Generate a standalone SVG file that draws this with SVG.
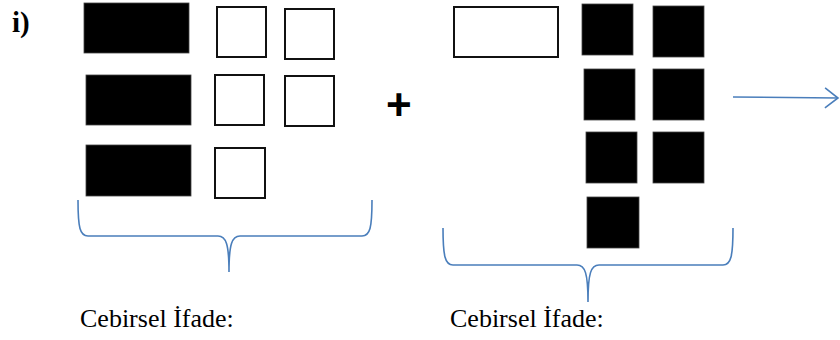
<svg xmlns="http://www.w3.org/2000/svg" width="840" height="340" viewBox="0 0 840 340">
  <style>
    .blk { fill: #000; stroke: #444; stroke-width: 0.8; }
    .wht { fill: #fff; stroke: #111; stroke-width: 2; }
    .brace { fill: none; stroke: #4A7EBB; stroke-width: 1.6; }
    .lbl { font-family: "Liberation Serif", "Times New Roman", serif; font-size: 26px; fill: #000; }
  </style>
  <defs>
    <marker id="arr" markerWidth="16" markerHeight="24" refX="14" refY="11" orient="auto" markerUnits="userSpaceOnUse">
      <polyline points="1,1 14,11 1,21" fill="none" stroke="#4A7EBB" stroke-width="1.6"/>
    </marker>
  </defs>
  <rect width="840" height="340" fill="#fff"/>

  <text x="12" y="32" font-family="'Liberation Serif', 'Times New Roman', serif" font-size="29" font-weight="bold">i)</text>

  <g id="left-group">
    <rect id="b1" class="blk" x="84" y="3" width="105" height="50"/>
    <rect id="w1" class="wht" x="217" y="7" width="49" height="50"/>
    <rect id="w2" class="wht" x="285" y="9" width="49" height="50"/>
    <rect id="b2" class="blk" x="86" y="75" width="105" height="50"/>
    <rect id="w3" class="wht" x="215" y="75" width="49" height="50"/>
    <rect id="w4" class="wht" x="285" y="76" width="49" height="50"/>
    <rect id="b3" class="blk" x="86" y="145" width="105" height="51"/>
    <rect id="w5" class="wht" x="215" y="148" width="50" height="50"/>
  </g>

  <text x="386" y="120" font-family="'Liberation Sans', Arial, sans-serif" font-size="44" font-weight="bold">+</text>

  <g id="right-group">
    <rect id="wr" class="wht" x="454" y="7" width="104" height="50"/>
    <rect id="k1" class="blk" x="582" y="4" width="51" height="51"/>
    <rect id="k2" class="blk" x="653" y="6" width="51" height="51"/>
    <rect id="k3" class="blk" x="584" y="69" width="51" height="51"/>
    <rect id="k4" class="blk" x="653" y="69" width="51" height="51"/>
    <rect id="k5" class="blk" x="586" y="132" width="51" height="51"/>
    <rect id="k6" class="blk" x="653" y="132" width="51" height="51"/>
    <rect id="k7" class="blk" x="587" y="197" width="52" height="51"/>
  </g>

  <g id="connectors">
    <path class="brace" d="M78,200 C78,228 80,236 88,236 L218,236 C226,236 229,244 229,272 C229,244 232,236 240,236 L362,236 C370,236 372,228 372,200"/>
    <path class="brace" d="M443,228 C443,256 445,265 453,265 L577,265 C585,265 588,273 588,302 C588,273 591,265 599,265 L723,265 C731,265 733,256 733,228"/>
    <line class="brace" x1="733" y1="97" x2="838" y2="98" marker-end="url(#arr)"/>
  </g>

  <g id="labels">
    <text class="lbl" x="80" y="327">Cebirsel İfade:</text>
    <text class="lbl" x="450" y="327">Cebirsel İfade:</text>
  </g>
</svg>
